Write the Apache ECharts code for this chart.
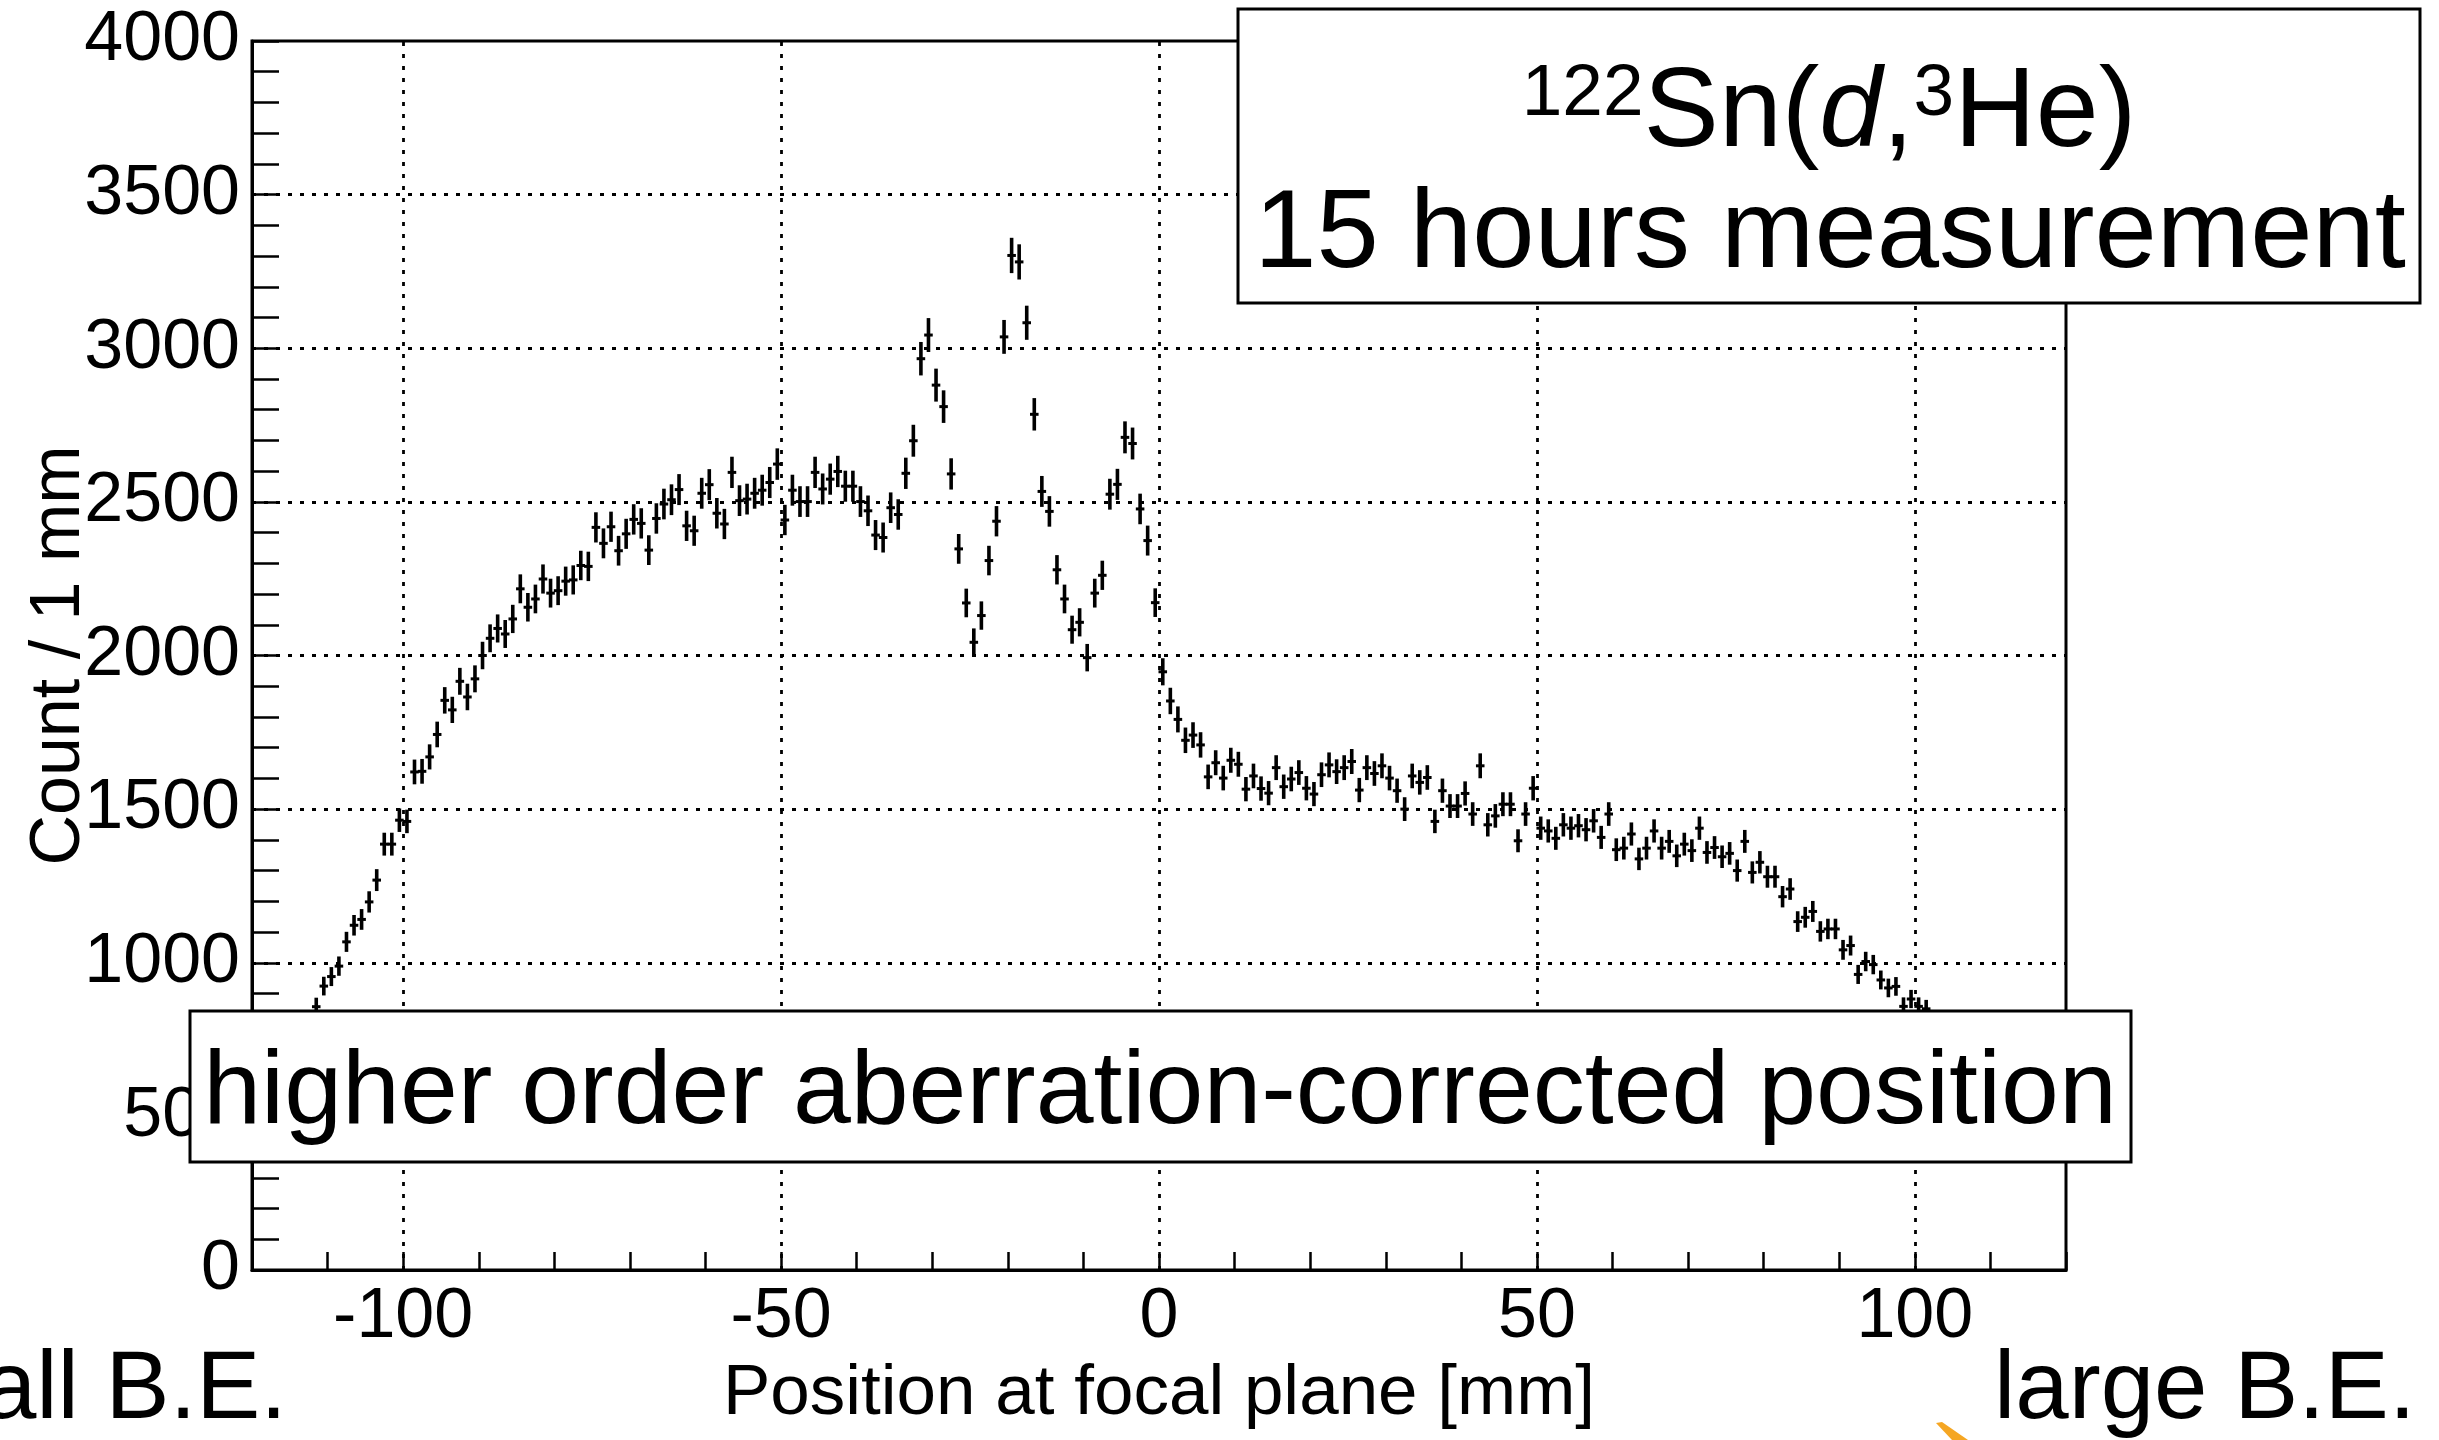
<!DOCTYPE html>
<html>
<head>
<meta charset="utf-8">
<script src="https://cdn.jsdelivr.net/npm/echarts@6/dist/echarts.min.js"></script>
<style>
  html, body { margin: 0; padding: 0; background: #fff; }
  #chart { width: 2439px; height: 1440px; }
</style>
</head>
<body>
<div id="chart"></div>
<script>
const FONT = '"Liberation Sans", Arial, Helvetica, sans-serif';

// Focal-plane position histogram, 1 mm bins; first bin centred at -111.5 mm
const firstBinCenter = -111.5;
const binWidth = 1;

const counts = [
  // -111.5 .. -86.5
  857, 924, 955, 989, 1068, 1122, 1141, 1198, 1269, 1386, 1386, 1464, 1460,
  1621, 1623, 1670, 1743, 1854, 1823, 1916, 1865, 1924, 2000, 2056, 2088, 2070,
  // -85.5 .. -60.5
  2119, 2217, 2157, 2184, 2249, 2203, 2211, 2242, 2246, 2293, 2290, 2417, 2365,
  2419, 2341, 2396, 2443, 2430, 2343, 2446, 2493, 2507, 2540, 2422, 2406, 2528,
  // -59.5 .. -34.5
  2556, 2463, 2428, 2596, 2504, 2509, 2528, 2538, 2563, 2623, 2441, 2538, 2501,
  2501, 2596, 2542, 2574, 2599, 2551, 2551, 2501, 2471, 2392, 2384, 2481, 2459,
  // -33.5 .. -8.5
  2593, 2699, 2966, 3043, 2880, 2810, 2591, 2347, 2171, 2043, 2130, 2309, 2437,
  3037, 3302, 3281, 3083, 2785, 2534, 2469, 2279, 2184, 2084, 2108, 1993, 2203,
  // -7.5 .. 17.5
  2261, 2525, 2557, 2710, 2690, 2477, 2374, 2172, 1947, 1852, 1792, 1724, 1741,
  1709, 1605, 1651, 1601, 1659, 1646, 1565, 1608, 1567, 1552, 1635, 1573, 1598,
  // 18.5 .. 43.5
  1619, 1568, 1549, 1612, 1644, 1622, 1635, 1655, 1562, 1635, 1616, 1641, 1601,
  1560, 1500, 1608, 1587, 1603, 1460, 1560, 1510, 1510, 1551, 1484, 1641, 1449,
  // 44.5 .. 69.5
  1478, 1516, 1516, 1397, 1484, 1568, 1438, 1429, 1405, 1449, 1438, 1446, 1433,
  1462, 1408, 1484, 1368, 1373, 1419, 1338, 1373, 1429, 1373, 1395, 1348, 1386,
  // 70.5 .. 101.5
  1365, 1438, 1359, 1375, 1345, 1356, 1300, 1395, 1294, 1327, 1280, 1280, 1215,
  1240, 1134, 1148, 1167, 1102, 1110, 1110, 1042, 1056, 962, 1004, 994, 944,
  918, 923, 858, 882, 858, 850
];

const xRange = [-120, 120];
const yRange = [0, 4000];
const xLabelStep = 50;
const xGridValues = [-100, -50, 0, 50, 100];

const titleLine2 = '15 hours measurement';
const boxCaption = 'higher order aberration-corrected position';
const xName = 'Position at focal plane [mm]';
const yName = 'Count / 1 mm';
const leftNote = 'small B.E.';
const rightNote = 'large B.E.';

// [centre, count, statistical error]
const points = counts.map((c, i) => [firstBinCenter + i * binWidth, c, Math.sqrt(c)]);

const dotted = { color: '#000', width: 2.8, type: [4, 8] };

function renderErrorBar(params, api) {
  const x = api.value(0), y = api.value(1), e = api.value(2);
  const top = api.coord([x, y + e]);
  const bot = api.coord([x, y - e]);
  const l = api.coord([x - binWidth / 2, y]);
  const r = api.coord([x + binWidth / 2, y]);
  return {
    type: 'group',
    children: [
      { type: 'line', shape: { x1: top[0], y1: top[1], x2: bot[0], y2: bot[1] },
        style: { stroke: '#000', lineWidth: 3.6 } },
      { type: 'line', shape: { x1: l[0] - 0.5, y1: l[1], x2: r[0] + 0.5, y2: r[1] },
        style: { stroke: '#000', lineWidth: 3 } }
    ]
  };
}

const chart = echarts.init(document.getElementById('chart'), null, { renderer: 'canvas' });

chart.setOption({
  animation: false,
  backgroundColor: '#fff',
  grid: {
    left: 252, right: 373, top: 41, bottom: 170,
    containLabel: false, outerBoundsMode: 'none',
    show: true, borderColor: '#000', borderWidth: 3, backgroundColor: 'transparent'
  },
  xAxis: {
    type: 'value', min: xRange[0], max: xRange[1], interval: 10,
    axisLine: { show: true, onZero: false, lineStyle: { color: '#000', width: 3 } },
    axisTick: { show: true, inside: true, length: 18, lineStyle: { color: '#000', width: 2.5 } },
    axisLabel: {
      formatter: v => (v % xLabelStep === 0 ? String(v) : ''),
      fontSize: 70, fontFamily: FONT, color: '#000', margin: 13
    },
    splitLine: { show: false },
    name: xName, nameLocation: 'middle', nameGap: 89, nameMoveOverlap: false,
    nameTextStyle: { fontSize: 71, fontFamily: FONT, color: '#000' }
  },
  yAxis: {
    type: 'value', min: yRange[0], max: yRange[1], interval: 500,
    axisLine: { show: true, onZero: false, lineStyle: { color: '#000', width: 3 } },
    axisTick: { show: true, inside: true, length: 27, lineStyle: { color: '#000', width: 2.5 } },
    minorTick: { show: true, splitNumber: 5, length: 27, lineStyle: { color: '#000', width: 2.5 } },
    axisLabel: { formatter: v => String(v), fontSize: 70, fontFamily: FONT, color: '#000', margin: 12 },
    splitLine: { show: true, showMinLine: false, showMaxLine: false, lineStyle: dotted },
    name: yName, nameLocation: 'middle', nameGap: 157, nameMoveOverlap: false,
    nameTextStyle: { fontSize: 70, fontFamily: FONT, color: '#000' }
  },
  series: [{
    type: 'custom',
    renderItem: renderErrorBar,
    data: points,
    z: 3,
    markLine: {
      silent: true, symbol: ['none', 'none'], label: { show: false },
      lineStyle: dotted, animation: false,
      data: xGridValues.map(v => ({ xAxis: v }))
    }
  }],
  graphic: [
    { type: 'rect', z: 100, shape: { x: 1238, y: 9, width: 1182, height: 294 },
      style: { fill: '#fff', stroke: '#000', lineWidth: 3 } },
    { type: 'text', z: 101, x: 1829, y: 115,
      style: {
        text: '{s|122}{n|Sn(}{i|d}{n|,}{s|3}{n|He)}',
        align: 'center', verticalAlign: 'middle', fill: '#000',
        rich: {
          n: { fontSize: 113, fontFamily: FONT, fill: '#000' },
          i: { fontSize: 113, fontFamily: FONT, fontStyle: 'italic', fill: '#000' },
          s: { fontSize: 73, fontFamily: FONT, verticalAlign: 'top', fill: '#000' }
        }
      } },
    { type: 'text', z: 101, x: 1830, y: 236,
      style: { text: titleLine2, fontSize: 112, fontFamily: FONT, fill: '#000',
               align: 'center', verticalAlign: 'middle' } },
    { type: 'rect', z: 100, shape: { x: 190, y: 1011, width: 1941, height: 151 },
      style: { fill: '#fff', stroke: '#000', lineWidth: 3 } },
    { type: 'text', z: 101, x: 1160, y: 1094,
      style: { text: boxCaption, fontSize: 104, fontFamily: FONT, fill: '#000',
               align: 'center', verticalAlign: 'middle' } },
    { type: 'text', z: 101, x: 287, y: 1392,
      style: { text: leftNote, fontSize: 96, fontFamily: FONT, fill: '#000',
               align: 'right', verticalAlign: 'middle' } },
    { type: 'text', z: 101, x: 1994, y: 1392,
      style: { text: rightNote, fontSize: 96, fontFamily: FONT, fill: '#000',
               align: 'left', verticalAlign: 'middle' } },
    { type: 'polygon', z: 101,
      shape: { points: [[1936, 1423], [1942, 1422], [1968, 1440], [1952, 1440]] },
      style: { fill: '#F5A623' } }
  ]
});
</script>
</body>
</html>
